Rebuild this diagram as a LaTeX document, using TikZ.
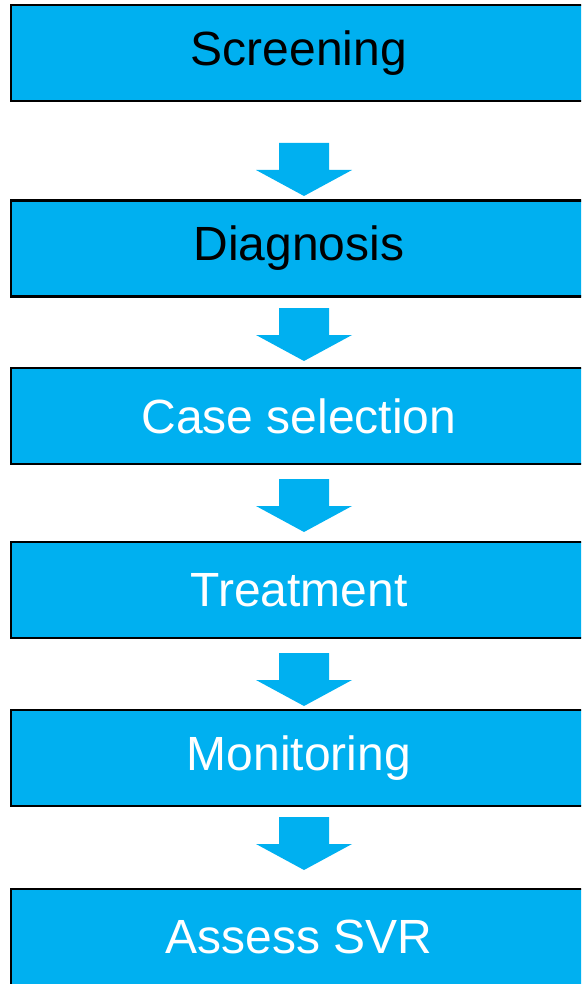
\documentclass[tikz,border=0pt]{standalone}
\usepackage{fontspec}
\setmainfont{Liberation Sans}
\usepackage{xcolor}
\definecolor{boxblue}{HTML}{00B0F0}
\tikzset{
  stagebox/.style={draw=black,fill=boxblue,line width=2.5pt,minimum width=576pt,minimum height=96pt,inner sep=0pt,font=\fontsize{48}{52}\selectfont},
  blockarrow/.style={fill=boxblue}
}

\begin{document}
\begin{tikzpicture}[x=1pt,y=-1pt]
\useasboundingbox (0,0) rectangle (581,984);
\clip (0,0) rectangle (581,984);
\node[stagebox,text=black] (screen) at (299,53) {Screening};
\node[stagebox,text=black] (diag) at (299,248.5) {Diagnosis};
\node[stagebox,text=white] (casesel) at (299,416) {Case selection};
\node[stagebox,text=white] (treat) at (299,590) {Treatment};
\node[stagebox,text=white] (monit) at (299,758) {Monitoring};
\node[stagebox,text=white] (svr) at (299,937) {Assess SVR};
% block arrows between the stages
\foreach \t in {143,308,479,653,817}
  \fill[blockarrow] (279,\t) -- (329,\t) -- (329,\t+27) -- (352,\t+27) -- (304,\t+53)
    -- (256,\t+27) -- (279,\t+27) -- cycle;
\end{tikzpicture}
\end{document}
